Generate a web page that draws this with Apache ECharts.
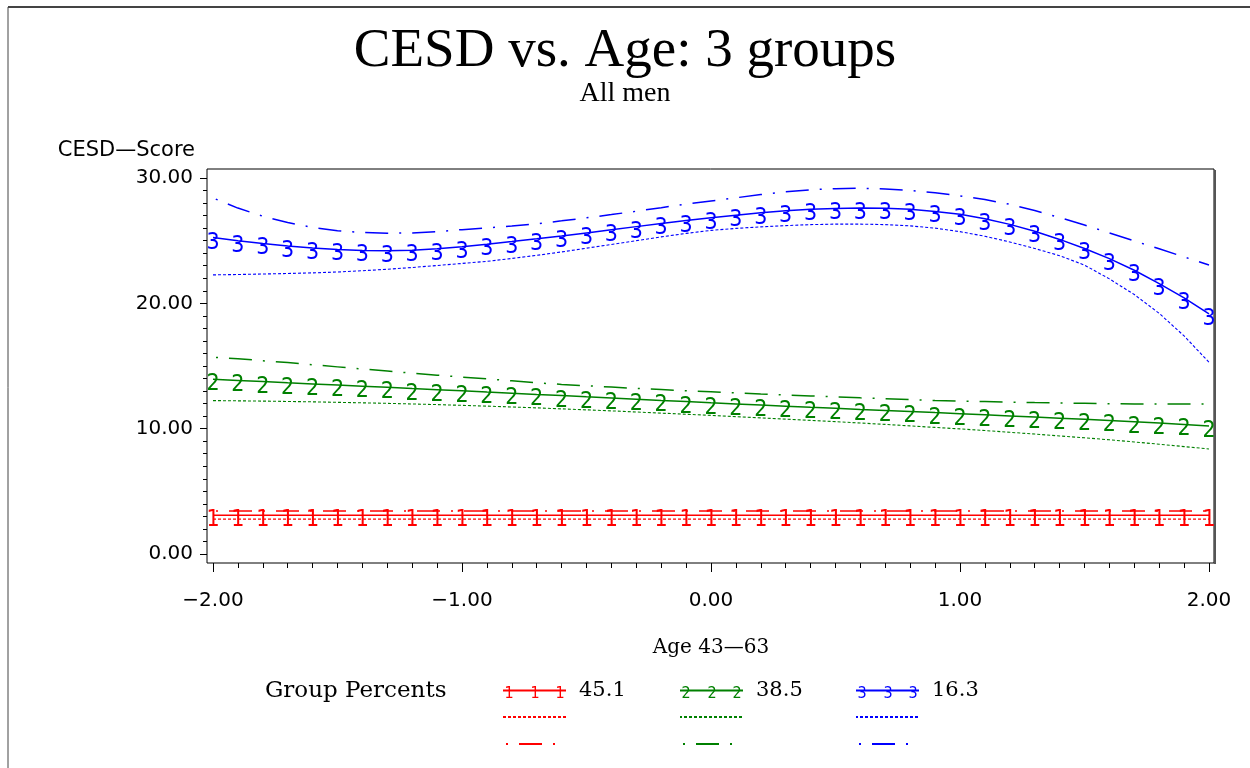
<!DOCTYPE html>
<html>
<head>
<meta charset="utf-8">
<script src="https://cdn.jsdelivr.net/npm/echarts@6/dist/echarts.min.js"></script>
<style>
html,body{margin:0;padding:0;background:#fff;}
#c{width:1250px;height:768px;}
</style>
</head>
<body>
<div id="c"></div>
<script>
// ---- data ----
const ages = [-2.0,-1.9,-1.8,-1.7,-1.6,-1.5,-1.4,-1.3,-1.2,-1.1,-1.0,-0.9,-0.8,-0.7,-0.6,-0.5,-0.4,-0.3,-0.2,-0.1,0.0,0.1,0.2,0.3,0.4,0.5,0.6,0.7,0.8,0.9,1.0,1.1,1.2,1.3,1.4,1.5,1.6,1.7,1.8,1.9,2.0];

const groupLabels = ['1', '2', '3'];
const groupPercents = ['45.1', '38.5', '16.3'];

// Group 1 (red)
const g1Est  = [3.1,3.1,3.1,3.1,3.1,3.1,3.1,3.1,3.1,3.1,3.1,3.1,3.1,3.1,3.1,3.1,3.1,3.1,3.1,3.1,3.1,3.1,3.1,3.1,3.1,3.1,3.1,3.1,3.1,3.1,3.1,3.1,3.1,3.1,3.1,3.1,3.1,3.1,3.1,3.1,3.1];
const g1Low  = [2.78,2.78,2.78,2.78,2.78,2.78,2.78,2.78,2.78,2.78,2.78,2.78,2.78,2.78,2.78,2.78,2.78,2.78,2.78,2.78,2.78,2.78,2.78,2.78,2.78,2.78,2.78,2.78,2.78,2.78,2.78,2.78,2.78,2.78,2.78,2.78,2.78,2.78,2.78,2.78,2.78];
const g1High = [3.43,3.43,3.43,3.43,3.43,3.43,3.43,3.43,3.43,3.43,3.43,3.43,3.43,3.43,3.43,3.43,3.43,3.43,3.43,3.43,3.43,3.43,3.43,3.43,3.43,3.43,3.43,3.43,3.43,3.43,3.43,3.43,3.43,3.43,3.43,3.43,3.43,3.43,3.43,3.43,3.43];

// Group 2 (green)
const g2Est  = [13.94,13.85,13.76,13.66,13.57,13.48,13.39,13.3,13.2,13.11,13.02,12.92,12.83,12.73,12.64,12.54,12.45,12.35,12.25,12.16,12.06,11.97,11.88,11.79,11.7,11.62,11.53,11.45,11.37,11.28,11.2,11.11,11.02,10.93,10.84,10.75,10.66,10.56,10.45,10.34,10.22];
const g2Low  = [12.24,12.22,12.2,12.17,12.14,12.1,12.06,12.02,11.97,11.92,11.86,11.8,11.73,11.66,11.58,11.5,11.42,11.33,11.24,11.15,11.06,10.96,10.86,10.76,10.66,10.56,10.45,10.34,10.22,10.1,9.98,9.85,9.71,9.57,9.42,9.27,9.11,8.94,8.76,8.57,8.38];
const g2High = [15.7,15.58,15.42,15.27,15.1,14.93,14.76,14.6,14.43,14.27,14.11,13.97,13.82,13.66,13.53,13.42,13.32,13.21,13.12,13.03,12.95,12.86,12.77,12.69,12.61,12.54,12.46,12.39,12.32,12.25,12.2,12.16,12.12,12.08,12.05,12.02,11.99,11.97,11.96,11.96,11.97];

// Group 3 (blue)
const g3Est  = [25.25,25.0,24.78,24.58,24.42,24.3,24.22,24.2,24.24,24.35,24.52,24.72,24.93,25.15,25.38,25.62,25.87,26.12,26.37,26.6,26.82,27.03,27.22,27.38,27.5,27.57,27.6,27.58,27.5,27.33,27.1,26.75,26.3,25.75,25.1,24.38,23.57,22.64,21.57,20.43,19.15];
const g3Low  = [22.27,22.3,22.34,22.38,22.43,22.5,22.6,22.72,22.86,23.02,23.18,23.35,23.58,23.83,24.1,24.4,24.7,25.0,25.3,25.58,25.82,25.98,26.1,26.2,26.28,26.32,26.32,26.28,26.18,26.0,25.72,25.35,24.9,24.38,23.8,23.05,21.95,20.7,19.2,17.4,15.3];
const g3High = [28.4,27.6,26.95,26.45,26.05,25.8,25.65,25.6,25.62,25.72,25.88,26.02,26.17,26.35,26.58,26.82,27.08,27.35,27.63,27.92,28.17,28.42,28.68,28.9,29.06,29.15,29.18,29.12,29.0,28.82,28.57,28.28,27.9,27.4,26.85,26.25,25.62,24.98,24.35,23.7,23.06];

// ---- chart ----
const colors = ['#ff0000', '#008000', '#0000ff'];
const groups = [
  {est: g1Est, low: g1Low, high: g1High},
  {est: g2Est, low: g2Low, high: g2High},
  {est: g3Est, low: g3Low, high: g3High}
];
const pairs = arr => ages.map((a, k) => [a, arr[k]]);
const dashDot = [23, 11, 2, 11];
const dotted = [3, 2];
const glyphFont = '"Liberation Sans Narrow", "DejaVu Sans Condensed", "Liberation Sans", sans-serif';

const series = [];
const legends = [];
const glyphGraphics = [];
const legendLefts = [502, 679, 855];
const rowTops = [680, 710, 737];
const glyphOffsets = [7, 33, 58];

groups.forEach((g, i) => {
  const c = colors[i];
  const names = ['Group ' + groupLabels[i], 'Group ' + groupLabels[i] + ' lower', 'Group ' + groupLabels[i] + ' upper'];
  series.push({
    name: names[0], type: 'line', data: pairs(g.est),
    symbol: 'circle', symbolSize: 0, silent: true, z: 4,
    lineStyle: {color: c, width: 1.5, type: 'solid'},
    itemStyle: {color: c},
    label: {show: true, position: 'inside', offset: [0, 5], formatter: groupLabels[i],
            color: c, fontFamily: glyphFont, fontSize: 23}
  });
  series.push({
    name: names[1], type: 'line', data: pairs(g.low),
    symbol: 'none', silent: true, z: 3,
    lineStyle: {color: c, width: 1.1, type: dotted},
    itemStyle: {color: c}
  });
  series.push({
    name: names[2], type: 'line', data: pairs(g.high),
    symbol: 'none', silent: true, z: 3,
    lineStyle: {color: c, width: 1.5, type: dashDot, dashOffset: 31},
    itemStyle: {color: c}
  });
  names.forEach((nm, r) => {
    legends.push({
      show: true, data: [nm], left: legendLefts[i], top: rowTops[r], padding: 0,
      itemWidth: 63, itemHeight: 14, itemGap: 0, selectedMode: false,
      itemStyle: {color: 'rgba(0,0,0,0)', borderWidth: 0},
      formatter: r === 0 ? (() => groupPercents[i]) : (() => ''),
      textStyle: {fontFamily: 'DejaVu Serif', fontSize: 21, color: '#000', padding: [6, 0, 0, 8]}
    });
  });
  glyphOffsets.forEach(dx => {
    glyphGraphics.push({
      type: 'text', x: legendLefts[i] + dx, y: 694, silent: true,
      style: {text: groupLabels[i], fill: c, fontSize: 16, fontFamily: glyphFont, align: 'center', verticalAlign: 'middle'}
    });
  });
});

const labelFont = {fontFamily: 'DejaVu Sans', fontSize: 20, color: '#000'};
const fmtTick = v => (v < 0 ? '\u2212' : '') + Math.abs(v).toFixed(2);

const option = {
  animation: false,
  backgroundColor: '#ffffff',
  title: [
    {text: 'CESD vs. Age: 3 groups', left: 'center', top: 24, padding: 0,
     textStyle: {fontFamily: 'Liberation Serif', fontSize: 55, fontWeight: 'normal', color: '#000'}},
    {text: 'All men', left: 'center', top: 80, padding: 0,
     textStyle: {fontFamily: 'Liberation Serif', fontSize: 28, fontWeight: 'normal', color: '#000'}},
    {text: 'Group Percents', left: 265, top: 680, padding: 0,
     textStyle: {fontFamily: 'DejaVu Serif', fontSize: 23, fontWeight: 'normal', color: '#000'}}
  ],
  legend: legends,
  grid: [
    {left: 213, right: 41, top: 178, bottom: 214, containLabel: false},
    {left: 207, top: 169, width: 1007, height: 394, show: true, borderColor: '#000', borderWidth: 1, backgroundColor: 'transparent'}
  ],
  xAxis: [
    {type: 'value', gridIndex: 0, min: -2, max: 2, interval: 1, offset: 9, position: 'bottom',
     axisLine: {show: false, onZero: false},
     axisTick: {show: true, length: 9, lineStyle: {color: '#000', width: 1}},
     minorTick: {show: true, splitNumber: 10, length: 5, lineStyle: {color: '#000', width: 1}},
     splitLine: {show: false}, minorSplitLine: {show: false},
     axisLabel: Object.assign({margin: 28, formatter: fmtTick}, labelFont),
     name: 'Age 43\u201463', nameLocation: 'middle', nameGap: 75,
     nameTextStyle: {fontFamily: 'DejaVu Serif', fontSize: 20, color: '#000'}},
    {type: 'value', gridIndex: 1, show: false, min: 0, max: 1}
  ],
  yAxis: [
    {type: 'value', gridIndex: 0, min: 0, max: 30, interval: 10, offset: 6, position: 'left',
     axisLine: {show: false, onZero: false},
     axisTick: {show: true, length: 7, lineStyle: {color: '#000', width: 1}},
     minorTick: {show: true, splitNumber: 10, length: 4, lineStyle: {color: '#000', width: 1}},
     splitLine: {show: false}, minorSplitLine: {show: false},
     axisLabel: Object.assign({margin: 14, formatter: v => v.toFixed(2)}, labelFont),
     name: 'CESD\u2014Score', nameLocation: 'end', nameGap: 17,
     nameTextStyle: {fontFamily: 'DejaVu Sans', fontSize: 21, color: '#000', align: 'right', padding: [0, 12, 0, 0]}},
    {type: 'value', gridIndex: 1, show: false, min: 0, max: 1}
  ],
  series: series,
  graphic: [
    {type: 'line', silent: true, shape: {x1: 8, y1: 7, x2: 1250, y2: 7}, style: {stroke: '#444', lineWidth: 2}},
    {type: 'line', silent: true, shape: {x1: 8, y1: 7, x2: 8, y2: 768}, style: {stroke: '#444', lineWidth: 1}},
    {type: 'line', silent: true, shape: {x1: 1215, y1: 170, x2: 1215, y2: 564}, style: {stroke: '#555', lineWidth: 2}}
  ].concat(glyphGraphics)
};

const chart = echarts.init(document.getElementById('c'));
chart.setOption(option);
</script>
</body>
</html>
